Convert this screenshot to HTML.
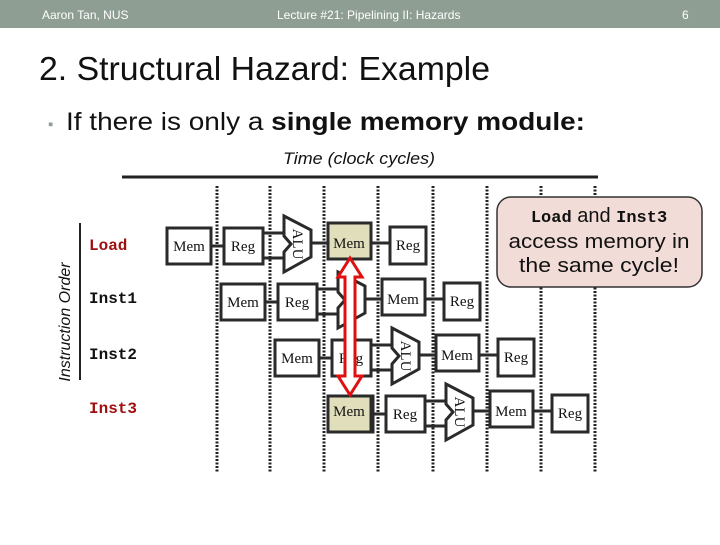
<!DOCTYPE html>
<html><head><meta charset="utf-8"><style>
body{margin:0;width:720px;height:540px;overflow:hidden;background:#fff;font-family:"Liberation Sans",sans-serif}
</style></head><body>
<svg width="720" height="540" xmlns="http://www.w3.org/2000/svg">
<rect x="0" y="0" width="720" height="28" fill="#8f9e93"/>
<text x="42" y="19" font-size="12" fill="#fff" font-family="Liberation Sans">Aaron Tan, NUS</text>
<text x="277" y="19" font-size="12" fill="#fff" font-family="Liberation Sans">Lecture #21: Pipelining II: Hazards</text>
<text x="682" y="19" font-size="12" fill="#fff" font-family="Liberation Sans">6</text>
<text x="39" y="80" font-size="33" fill="#111" font-family="Liberation Sans" textLength="451" lengthAdjust="spacingAndGlyphs">2. Structural Hazard: Example</text>
<text x="48" y="129" font-size="15" fill="#8f9e93">▪</text>
<text x="66" y="130" font-size="25" fill="#111" textLength="519" lengthAdjust="spacingAndGlyphs">If there is only a <tspan font-weight="bold">single memory module:</tspan></text>
<text x="359" y="164" font-size="17" font-style="italic" text-anchor="middle" fill="#111" textLength="152" lengthAdjust="spacingAndGlyphs">Time (clock cycles)</text>
<line x1="122" y1="177" x2="598" y2="177" stroke="#222" stroke-width="3"/>
<line x1="80" y1="223" x2="80" y2="380" stroke="#222" stroke-width="2"/>
<text transform="translate(70,322) rotate(-90)" font-size="16" font-style="italic" text-anchor="middle" fill="#111">Instruction Order</text>
<g stroke="#222" stroke-width="3" stroke-dasharray="2,1.5">
<line x1="217" y1="186" x2="217" y2="472"/><line x1="270" y1="186" x2="270" y2="472"/>
<line x1="324" y1="186" x2="324" y2="472"/><line x1="378" y1="186" x2="378" y2="472"/>
<line x1="433" y1="186" x2="433" y2="472"/><line x1="487" y1="186" x2="487" y2="472"/>
<line x1="541" y1="186" x2="541" y2="472"/><line x1="595" y1="186" x2="595" y2="472"/>
</g>
<g font-family="Liberation Mono" font-weight="bold" font-size="16">
<text x="89" y="250" fill="#a01010">Load</text>
<text x="89" y="303" fill="#111">Inst1</text>
<text x="89" y="359" fill="#111">Inst2</text>
<text x="89" y="413" fill="#a01010">Inst3</text>
</g>
<defs>
<g id="row">
<line x1="211" y1="246" x2="224" y2="246" stroke="#2a2a2a" stroke-width="3"/>
<line x1="263" y1="233" x2="290" y2="233" stroke="#2a2a2a" stroke-width="3"/>
<line x1="263" y1="258" x2="290" y2="258" stroke="#2a2a2a" stroke-width="3"/>
<line x1="311" y1="243" x2="390" y2="243" stroke="#2a2a2a" stroke-width="3"/>
<rect x="167" y="228" width="44" height="36" fill="#fff" stroke="#2a2a2a" stroke-width="3"/>
<text x="189" y="251" font-family="Liberation Serif" font-size="15" text-anchor="middle" fill="#111">Mem</text>
<rect x="224" y="228" width="39" height="36" fill="#fff" stroke="#2a2a2a" stroke-width="3"/>
<text x="243" y="251" font-family="Liberation Serif" font-size="15" text-anchor="middle" fill="#111">Reg</text>
<polygon points="284,216 311,230 311,257 284,272 284,252 291,244 284,236" fill="#fff" stroke="#2a2a2a" stroke-width="3"/>
<text transform="translate(293,244) rotate(90)" font-family="Liberation Serif" font-size="15" text-anchor="middle" fill="#111">ALU</text>
<rect x="390" y="227" width="36" height="37" fill="#fff" stroke="#2a2a2a" stroke-width="3"/>
<text x="408" y="250" font-family="Liberation Serif" font-size="15" text-anchor="middle" fill="#111">Reg</text>
</g>
</defs>
<use href="#row"/>
<rect x="328" y="223" width="43" height="36" fill="#e1dfbb" stroke="#2a2a2a" stroke-width="3"/>
<text x="349" y="248" font-family="Liberation Serif" font-size="15" text-anchor="middle" fill="#111">Mem</text>
<use href="#row" x="54" y="56"/>
<rect x="382" y="279" width="43" height="36" fill="#fff" stroke="#2a2a2a" stroke-width="3"/>
<text x="403" y="304" font-family="Liberation Serif" font-size="15" text-anchor="middle" fill="#111">Mem</text>
<use href="#row" x="108" y="112"/>
<rect x="436" y="335" width="43" height="36" fill="#fff" stroke="#2a2a2a" stroke-width="3"/>
<text x="457" y="360" font-family="Liberation Serif" font-size="15" text-anchor="middle" fill="#111">Mem</text>
<use href="#row" x="162" y="168"/>
<rect x="490" y="391" width="43" height="36" fill="#fff" stroke="#2a2a2a" stroke-width="3"/>
<text x="511" y="416" font-family="Liberation Serif" font-size="15" text-anchor="middle" fill="#111">Mem</text>
<rect x="328" y="396" width="43" height="36" fill="#e1dfbb" stroke="#2a2a2a" stroke-width="3"/>
<text x="349" y="416" font-family="Liberation Serif" font-size="15" text-anchor="middle" fill="#111">Mem</text>
<polygon points="350,258 362,277 355,277 355,376 362,376 350,395 338,376 345,376 345,277 338,277" fill="#fff" stroke="#e01010" stroke-width="3"/>
<rect x="497" y="197" width="205" height="90" rx="14" fill="#f2dcd8" stroke="#333" stroke-width="1.5"/>
<text x="599" y="222" font-size="20" text-anchor="middle" fill="#111"><tspan font-family="Liberation Mono" font-weight="bold" font-size="17">Load</tspan> and <tspan font-family="Liberation Mono" font-weight="bold" font-size="17">Inst3</tspan></text>
<text x="599" y="248" font-size="20" text-anchor="middle" fill="#111" textLength="181" lengthAdjust="spacingAndGlyphs">access memory in</text>
<text x="599" y="272" font-size="20" text-anchor="middle" fill="#111" textLength="160" lengthAdjust="spacingAndGlyphs">the same cycle!</text>
</svg>
</body></html>
